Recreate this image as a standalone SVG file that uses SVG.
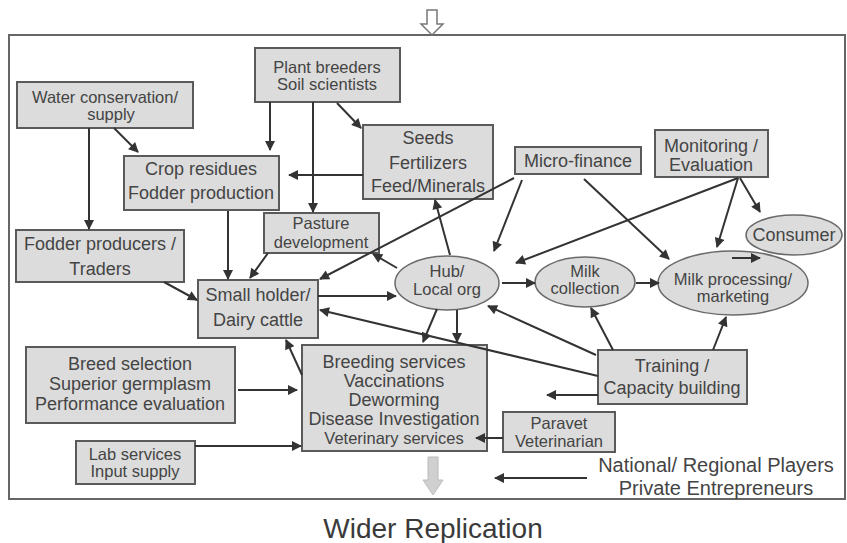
<svg xmlns="http://www.w3.org/2000/svg" width="847" height="543" viewBox="0 0 847 543">
<style>
.box{fill:#dcdcdc;stroke:#5a5a5a;stroke-width:2}
.ell{fill:#dcdcdc;stroke:#6a6a6a;stroke-width:1.5}
text{font-family:"Liberation Sans",Arial,sans-serif;font-size:18px;fill:#444;text-anchor:middle}
.t{font-size:16.5px}
.c line{stroke:#333;stroke-width:2;marker-end:url(#ah)}
</style>
<defs>
<marker id="ah" viewBox="0 0 10 10" refX="9" refY="5" markerWidth="12" markerHeight="10" markerUnits="userSpaceOnUse" orient="auto"><path d="M0,0 L10,5 L0,10 z" fill="#333"/></marker>
</defs>
<rect width="847" height="543" fill="#fff"/>
<rect id="frame" x="9" y="35" width="836" height="464" fill="#fff" stroke="#666" stroke-width="2"/>
<polygon id="topArrow" points="427,10 437,10 437,24 443,24 432,35 421,24 427,24" fill="#fff" stroke="#777" stroke-width="1.5"/>
<polygon id="bottomArrow" points="428,457 438,457 438,480 443,480 433,495 423,480 428,480" fill="#d0d0d0" stroke="#bbb" stroke-width="1"/>

<g id="plantBreeders"><rect class="box" x="255" y="48" width="145" height="54"/><text class="t" x="327" y="73">Plant breeders</text><text class="t" x="327" y="90">Soil scientists</text></g>
<g id="waterConservation"><rect class="box" x="17" y="82" width="176" height="46"/><text class="t" x="105" y="103">Water conservation/</text><text class="t" x="111" y="120">supply</text></g>
<g id="seeds"><rect class="box" x="363" y="125" width="130" height="74"/><text x="428" y="144">Seeds</text><text x="428" y="169">Fertilizers</text><text x="428" y="192">Feed/Minerals</text></g>
<g id="cropResidues"><rect class="box" x="124" y="156" width="155" height="54"/><text x="201" y="175">Crop residues</text><text x="201" y="199">Fodder production</text></g>
<g id="microFinance"><rect class="box" x="515" y="147" width="126" height="27"/><text x="578" y="167">Micro-finance</text></g>
<g id="monitoring"><rect class="box" x="655" y="130" width="113" height="47"/><text x="711" y="152">Monitoring /</text><text x="711" y="171">Evaluation</text></g>
<g id="pasture"><rect class="box" x="264" y="213" width="115" height="40"/><text class="t" x="321" y="229">Pasture</text><text class="t" x="321" y="248">development</text></g>
<g id="fodderProducers"><rect class="box" x="16" y="230" width="168" height="52"/><text x="100" y="250">Fodder producers /</text><text x="100" y="275">Traders</text></g>
<g id="smallHolder"><rect class="box" x="198" y="280" width="120" height="58"/><text x="258" y="301">Small holder/</text><text x="258" y="326">Dairy cattle</text></g>
<g id="breedSelection"><rect class="box" x="26" y="347" width="209" height="76"/><text x="130" y="370">Breed selection</text><text x="130" y="390">Superior germplasm</text><text x="130" y="410">Performance evaluation</text></g>
<g id="breedingServices"><rect class="box" x="302" y="345" width="185" height="106"/><text x="394" y="368">Breeding services</text><text x="394" y="387">Vaccinations</text><text x="394" y="406">Deworming</text><text x="394" y="425">Disease Investigation</text><text class="t" x="394" y="444">Veterinary services</text></g>
<g id="labServices"><rect class="box" x="76" y="441" width="119" height="43"/><text class="t" x="135" y="460">Lab services</text><text class="t" x="135" y="477">Input supply</text></g>
<g id="paravet"><rect class="box" x="503" y="412" width="112" height="40"/><text class="t" x="559" y="429">Paravet</text><text class="t" x="559" y="447">Veterinarian</text></g>
<g id="training"><rect class="box" x="598" y="350" width="149" height="54"/><text x="672" y="372">Training /</text><text x="672" y="394">Capacity building</text></g>

<g id="hub"><ellipse class="ell" cx="447" cy="283" rx="52" ry="27"/><text class="t" x="447" y="277">Hub/</text><text class="t" x="447" y="295">Local org</text></g>
<g id="milkCollection"><ellipse class="ell" cx="585" cy="282" rx="50" ry="25"/><text class="t" x="585" y="277">Milk</text><text class="t" x="585" y="294">collection</text></g>
<g id="milkProcessing"><ellipse class="ell" cx="733" cy="283" rx="75" ry="32"/><text class="t" x="733" y="285">Milk processing/</text><text class="t" x="733" y="302">marketing</text></g>
<g id="consumer"><ellipse class="ell" cx="794" cy="235" rx="48" ry="20"/><text x="794" y="241">Consumer</text></g>

<g class="c" id="connectors">
<line x1="270" y1="102" x2="270" y2="150"/>
<line x1="313" y1="102" x2="313" y2="212"/>
<line x1="337" y1="103" x2="361" y2="128"/>
<line x1="114" y1="128" x2="138" y2="152"/>
<line x1="89" y1="128" x2="89" y2="229"/>
<line x1="363" y1="175" x2="289" y2="175"/>
<line x1="228" y1="211" x2="228" y2="279"/>
<line x1="268" y1="253" x2="250" y2="278"/>
<line x1="164" y1="282" x2="197" y2="300"/>
<line x1="514" y1="178" x2="320" y2="279"/>
<line x1="397" y1="268" x2="373" y2="254"/>
<line x1="450" y1="255" x2="435" y2="200"/>
<line x1="522" y1="180" x2="494" y2="251"/>
<line x1="738" y1="178" x2="516" y2="263"/>
<line x1="584" y1="179" x2="669" y2="259"/>
<line x1="738" y1="178" x2="717" y2="247"/>
<line x1="740" y1="178" x2="760" y2="212"/>
<line x1="732" y1="258" x2="760" y2="258"/>
<line x1="318" y1="296" x2="396" y2="296"/>
<line x1="502" y1="283" x2="535" y2="283"/>
<line x1="636" y1="283" x2="659" y2="283"/>
<line x1="437" y1="309" x2="423" y2="342"/>
<line x1="457" y1="310" x2="457" y2="342"/>
<line x1="598" y1="376" x2="320" y2="310"/>
<line x1="596" y1="355" x2="488" y2="306"/>
<line x1="613" y1="350" x2="591" y2="308"/>
<line x1="713" y1="350" x2="726" y2="317"/>
<line x1="598" y1="395" x2="547" y2="395"/>
<line x1="302" y1="375" x2="286" y2="340"/>
<line x1="238" y1="390" x2="297" y2="390"/>
<line x1="195" y1="446" x2="301" y2="446"/>
<line x1="503" y1="438" x2="476" y2="438"/>
<line x1="587" y1="478" x2="495" y2="478"/>
</g>

<g id="national"><text x="716" y="472" style="font-size:20px">National/ Regional Players</text><text x="716" y="495" style="font-size:20px">Private Entrepreneurs</text></g>
<text id="wider" x="433" y="538" style="font-size:28px;fill:#3a3a3a">Wider Replication</text>
</svg>
